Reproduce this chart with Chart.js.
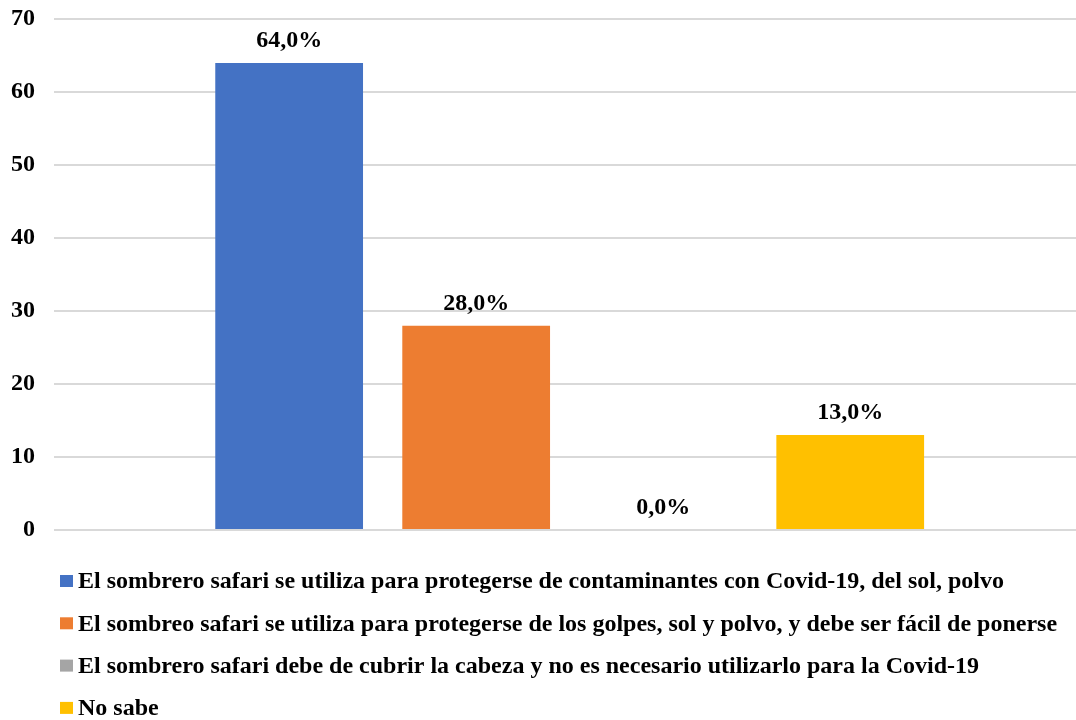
<!DOCTYPE html>
<html lang="es">
<head>
<meta charset="utf-8">
<title>Sombrero safari</title>
<script src="https://cdn.jsdelivr.net/npm/chart.js@4.4.1/dist/chart.umd.min.js"></script>
<style>
  html, body { margin: 0; padding: 0; background: #fff; }
  #wrap { width: 1076px; height: 720px; position: relative; }
</style>
</head>
<body>
<div id="wrap"><canvas id="safariChart"></canvas></div>
<script>
// datos
const seriesNames = [
    'El sombrero safari se utiliza para protegerse de contaminantes con Covid-19, del sol, polvo',
    'El sombreo safari se utiliza para protegerse de los golpes, sol y polvo, y debe ser fácil de ponerse',
    'El sombrero safari debe de cubrir la cabeza y no es necesario utilizarlo para la Covid-19',
    'No sabe'
];
const seriesValues = [64, 28, 0, 13];
const seriesColors = ['#4472C4', '#ED7D31', '#A5A5A5', '#FFC000'];
const yTicks = [0, 10, 20, 30, 40, 50, 60, 70];

const FONT = '"Liberation Serif", "Times New Roman", serif';

window.addEventListener('DOMContentLoaded', initChart);

function initChart() {
    // una sola categoría (x = 0), cuatro series agrupadas
    const datasets = seriesNames.map((name, i) => ({
        label: name,
        data: [{ x: 0, y: seriesValues[i] }],
        backgroundColor: seriesColors[i],
        borderWidth: 0
    }));

    new Chart(document.getElementById('safariChart'), {
        type: 'bar',
        data: { datasets: datasets },
        options: {
            responsive: true,
            maintainAspectRatio: false,
            animation: false,
            datasets: { bar: { categoryPercentage: 1.464, barPercentage: 0.79 } },
            layout: { padding: { left: -8, right: 0, top: 19, bottom: 190 } },
            plugins: { legend: { display: false }, tooltip: { enabled: false } },
            scales: {
                // el grupo queda un poco a la derecha del centro, como en el original
                x: {
                    type: 'linear', display: false, min: -0.5, max: 0.482,
                    // solo los extremos como ticks
                    afterBuildTicks: (scale) => { scale.ticks = [{ value: scale.min }, { value: scale.max }]; }
                },
                y: {
                    min: yTicks[0],
                    max: yTicks[yTicks.length - 1],
                    ticks: {
                        stepSize: 10,
                        padding: 19,
                        color: '#000',
                        font: { family: FONT, size: 24, weight: 'bold', lineHeight: 0.01 }
                    },
                    grid: { color: '#d9d9d9', lineWidth: 2, drawTicks: false },
                    border: { display: false }
                }
            }
        },
        plugins: [valueLabels, bottomLegend]
    });
}

// etiquetas "64,0%" encima de cada barra
const valueLabels = {
    id: 'valueLabels',
    afterDatasetsDraw(chart) {
        const ctx = chart.ctx;
        ctx.save();
        ctx.font = 'bold 24px ' + FONT;
        ctx.fillStyle = '#000';
        ctx.textAlign = 'center';
        ctx.textBaseline = 'alphabetic';
        chart.data.datasets.forEach((ds, i) => {
            const bar = chart.getDatasetMeta(i).data[0];
            const txt = ds.data[0].y.toFixed(1).replace('.', ',') + '%';
            ctx.fillText(txt, bar.x, bar.y - 16);
        });
        ctx.restore();
    }
};

// leyenda: una serie por línea
const bottomLegend = {
    id: 'bottomLegend',
    afterDraw(chart) {
        const ctx = chart.ctx;
        ctx.save();
        ctx.font = 'bold 24px ' + FONT;
        ctx.textAlign = 'left';
        ctx.textBaseline = 'middle';
        chart.data.datasets.forEach((ds, i) => {
            const top = 575 + i * 42.3;
            ctx.fillStyle = ds.backgroundColor;
            ctx.fillRect(60, top, 13, 12);
            ctx.fillStyle = '#000';
            ctx.fillText(ds.label, 78, top + 7);
        });
        ctx.restore();
    }
};
</script>
</body>
</html>
